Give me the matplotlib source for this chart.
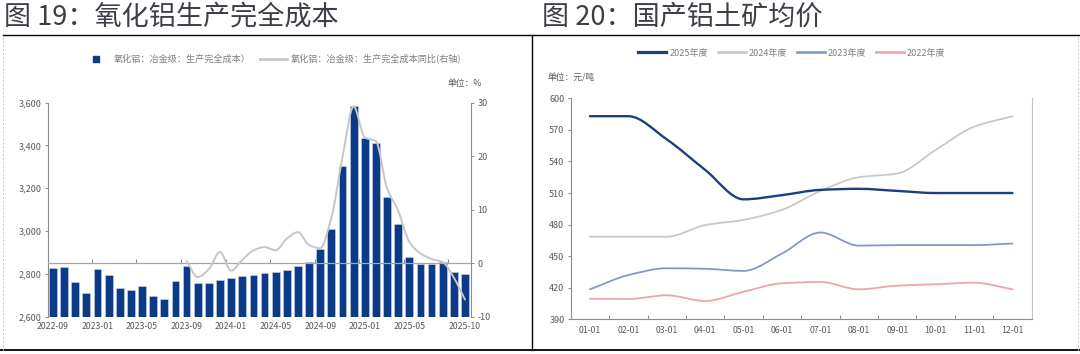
import matplotlib
matplotlib.use("Agg")
import matplotlib.pyplot as plt
import numpy as np
from matplotlib.lines import Line2D
from matplotlib.patches import PathPatch
from matplotlib.path import Path

plt.rcParams["font.family"] = ["Noto Sans CJK SC", "DejaVu Sans"]
plt.rcParams["axes.unicode_minus"] = False

# ---- left chart: alumina full production cost ----
MONTHS = [
    "2022-09", "2022-10", "2022-11", "2022-12",
    "2023-01", "2023-02", "2023-03", "2023-04", "2023-05", "2023-06",
    "2023-07", "2023-08", "2023-09", "2023-10", "2023-11", "2023-12",
    "2024-01", "2024-02", "2024-03", "2024-04", "2024-05", "2024-06",
    "2024-07", "2024-08", "2024-09", "2024-10", "2024-11", "2024-12",
    "2025-01", "2025-02", "2025-03", "2025-04", "2025-05", "2025-06",
    "2025-07", "2025-08", "2025-09", "2025-10",
]
COST = [
    2826, 2834, 2764, 2712,
    2821, 2793, 2736, 2725, 2745, 2697, 2684, 2767, 2837, 2759, 2756, 2770,
    2779, 2789, 2795, 2803, 2810, 2818, 2837, 2857, 2915, 3008, 3306, 3585,
    3434, 3413, 3160, 3033, 2880, 2845, 2846, 2854, 2810, 2798,
]
# YoY (%) starts at 2023-09
YOY_START = "2023-09"
YOY = [
    0.4, -2.6, -1.1, 2.1, -1.4, 0.6, 2.4, 3.0, 2.4, 4.6, 5.8, 3.4, 2.8,
    8.5, 19.8, 29.3, 23.5, 22.8, 14.0, 9.8, 4.0, 1.8, 0.8, 0.2, -2.7, -6.8,
]
XLABEL_MONTHS = ["2022-09", "2023-01", "2023-05", "2023-09", "2024-01",
                 "2024-05", "2024-09", "2025-01", "2025-05", "2025-10"]
COST_LABEL = "氧化铝：冶金级：生产完全成本）"
YOY_LABEL = "氧化铝：冶金级：生产完全成本同比(右轴)"

# ---- right chart: domestic bauxite average price ----
MONTH_DAYS = ["01-01", "02-01", "03-01", "04-01", "05-01", "06-01",
              "07-01", "08-01", "09-01", "10-01", "11-01", "12-01"]
PRICE_2025 = [583, 583, 561, 532, 504, 508, 513, 514, 512, 510, 510, 510]
PRICE_2024 = [468.5, 468.5, 468.5, 479.5, 484.5, 494, 512, 525, 528.5, 551, 573, 583]
PRICE_2023 = [418.5, 432, 438.5, 438, 436, 452.5, 472.5, 460, 460.5, 460.5, 460.5, 462]
PRICE_2022 = [409.5, 409.3, 412.8, 407.4, 416.2, 424.2, 425.5, 418.5, 422, 423.3, 424.8, 418.5]

BLUE_BAR = "#0a3a88"
GREY_LINE = "#c6c6c6"
TICK_TXT = "#595959"
SPINE = "#8c8c8c"
LEGEND_TXT = "#7f7f7f"

SERIES = [
    ("2025年度", PRICE_2025, "#1d3f7e", 1.7),
    ("2024年度", PRICE_2024, "#c8c8c8", 1.3),
    ("2023年度", PRICE_2023, "#8498c6", 1.3),
    ("2022年度", PRICE_2022, "#f0a3ab", 1.3),
]


def smooth_patch(x, y, color, lw, zorder=3):
    """Monotone cubic Bezier through the points (Excel-like smoothed line)."""
    x = np.asarray(x, float)
    y = np.asarray(y, float)
    d = np.diff(y) / np.diff(x)
    m = np.zeros_like(y)
    m[0], m[-1] = d[0], d[-1]
    for i in range(1, len(y) - 1):
        if d[i - 1] * d[i] > 0:
            m[i] = 2 * d[i - 1] * d[i] / (d[i - 1] + d[i])
    verts = [(x[0], y[0])]
    codes = [Path.MOVETO]
    for i in range(len(x) - 1):
        h = x[i + 1] - x[i]
        verts += [(x[i] + h / 3, y[i] + m[i] * h / 3),
                  (x[i + 1] - h / 3, y[i + 1] - m[i + 1] * h / 3),
                  (x[i + 1], y[i + 1])]
        codes += [Path.CURVE4] * 3
    return PathPatch(Path(verts, codes), facecolor="none", edgecolor=color,
                     lw=lw, capstyle="round", joinstyle="round", zorder=zorder)


fig = plt.figure(figsize=(10.8, 3.54), dpi=100)

# ------------------------------------------------------------------ left
ax1 = fig.add_axes([0.0444, 0.1054, 0.3917, 0.6045])
xs = np.arange(len(MONTHS))
ax1.bar(xs, COST, width=0.7, color=BLUE_BAR, edgecolor="#c9d4e8",
        linewidth=0.4, zorder=2)
ax1.set_xlim(-0.45, len(MONTHS) - 0.46)
ax1.set_ylim(2600, 3600)
ax1.set_yticks(np.arange(2600, 3601, 200))
ax1.set_yticklabels([f"{v:,}" for v in range(2600, 3601, 200)])
ax1.set_xticks([MONTHS.index(m) for m in XLABEL_MONTHS])
ax1.set_xticklabels(XLABEL_MONTHS)
ax1.tick_params(axis="x", length=0, pad=4, labelsize=6.3, labelcolor=TICK_TXT)
ax1.tick_params(axis="y", length=2.5, width=0.7, color=SPINE, pad=2,
                labelsize=6.5, labelcolor=TICK_TXT)
for s in ("top", "bottom", "right"):
    ax1.spines[s].set_visible(False)
ax1.spines["left"].set_color(SPINE)
ax1.spines["left"].set_linewidth(0.8)

ax2 = ax1.twinx()
ax2.set_ylim(-10, 30)
ax2.set_yticks([-10, 0, 10, 20, 30])
ax2.tick_params(axis="y", length=2.5, width=0.7, color=SPINE, pad=2,
                labelsize=6.5, labelcolor=TICK_TXT)
for s in ("top", "bottom", "left"):
    ax2.spines[s].set_visible(False)
ax2.spines["right"].set_color(SPINE)
ax2.spines["right"].set_linewidth(0.8)
yoy_x = np.arange(MONTHS.index(YOY_START), MONTHS.index(YOY_START) + len(YOY))
ax2.add_patch(smooth_patch(yoy_x, YOY, GREY_LINE, 1.4, zorder=4))

# category axis drawn along the 0 line of the right axis
zero_ax = ax2.secondary_xaxis(0.25)
zero_ax.set_xticks(np.arange(3.5, len(MONTHS), 4))
zero_ax.tick_params(direction="in", length=3, width=0.7, color=SPINE,
                    labelbottom=False, labeltop=False)
for s in zero_ax.spines.values():
    s.set_color("#a6a6a6")
    s.set_linewidth(0.9)

fig.legend(
    [Line2D([], [], marker="s", ls="none", color=BLUE_BAR, markersize=5),
     Line2D([], [], color=GREY_LINE, lw=2)],
    [COST_LABEL, YOY_LABEL], ncol=2, loc="center",
    bbox_to_anchor=(0.252, 0.833), frameon=False, fontsize=6.6,
    labelcolor=LEGEND_TXT, handlelength=3.0, handletextpad=0.4,
    columnspacing=1.0,
)
fig.text(0.4306, 0.763, "单位：%", ha="center", va="center",
         fontsize=6.3, color=TICK_TXT)

# ------------------------------------------------------------------ right
ax3 = fig.add_axes([0.5284, 0.098, 0.4269, 0.6243])
px = np.arange(len(MONTH_DAYS))
for label, vals, col, lw in SERIES[::-1]:
    ax3.add_patch(smooth_patch(px, vals, col, lw))
ax3.set_xlim(-0.5, len(MONTH_DAYS) - 0.5)
ax3.set_ylim(390, 600)
ax3.set_yticks(np.arange(390, 601, 30))
ax3.set_xticks(px)
ax3.set_xticklabels(MONTH_DAYS)
ax3.set_xticks(np.arange(-0.5, len(MONTH_DAYS)), minor=True)
ax3.tick_params(axis="x", which="major", length=0, pad=5, labelsize=6.3,
                labelcolor=TICK_TXT)
ax3.tick_params(axis="x", which="minor", direction="in", length=3,
                width=0.7, color=SPINE)
ax3.tick_params(axis="y", length=2.5, width=0.7, color=SPINE, pad=2,
                labelsize=6.5, labelcolor=TICK_TXT)
ax3.spines["top"].set_visible(False)
ax3.spines["right"].set_color("#c4c4c4")
for s in ("left", "bottom"):
    ax3.spines[s].set_color(SPINE)
    ax3.spines[s].set_linewidth(0.8)

fig.legend(
    [Line2D([], [], color=c, lw=lw + 0.6) for _, _, c, lw in SERIES],
    [s[0] for s in SERIES], ncol=4, loc="center",
    bbox_to_anchor=(0.733, 0.850), frameon=False, fontsize=6.5,
    labelcolor=LEGEND_TXT, handlelength=3.1, handletextpad=0.3,
    columnspacing=1.1,
)
fig.text(0.5065, 0.780, "单位：元/吨", ha="left", va="center",
         fontsize=6.3, color=TICK_TXT)

# ------------------------------------------------------------------ titles & frame
TITLE_COLOR = "#3e3e48"
fig.text(0.004, 0.99, "图 19：氧化铝生产完全成本", ha="left", va="top",
         fontsize=19.5, color=TITLE_COLOR, fontweight="medium")
fig.text(0.502, 0.99, "图 20：国产铝土矿均价", ha="left", va="top",
         fontsize=19.5, color=TITLE_COLOR, fontweight="medium")

frame = dict(transform=fig.transFigure, color="black")
fig.add_artist(Line2D([0.003, 1.0], [0.901, 0.901], lw=1.0, **frame))
fig.add_artist(Line2D([0.0, 1.0], [0.0113, 0.0113], lw=1.3, **frame))
fig.add_artist(Line2D([0.4923, 0.4923], [0.0113, 0.901], lw=1.0, **frame))
dash = dict(transform=fig.transFigure, color="#c8c8c8", lw=0.7, ls=(0, (2, 2)))
fig.add_artist(Line2D([0.003, 0.003], [0.0113, 0.901], **dash))
fig.add_artist(Line2D([0.998, 0.998], [0.0113, 0.901], **dash))

fig.savefig("out.png", dpi=100)
